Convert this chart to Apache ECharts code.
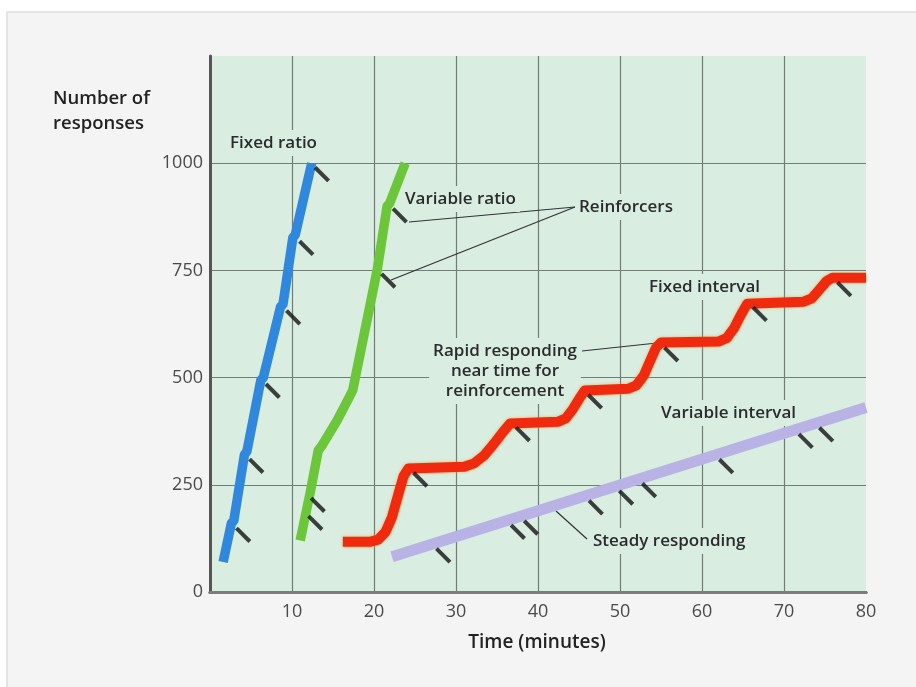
<!DOCTYPE html>
<html>
<head>
<meta charset="utf-8">
<script src="https://cdn.jsdelivr.net/npm/echarts@6/dist/echarts.min.js"></script>
<style>
  html, body { margin: 0; padding: 0; background: #fff; }
  #main { width: 916px; height: 687px; }
</style>
</head>
<body>
<div id="main"></div>
<script>
// time in minutes, cumulative responses
var xTicks = [0, 10, 20, 30, 40, 50, 60, 70, 80];
var yTicks = [0, 250, 500, 750, 1000];

var fixedRatio = [[1.6, 70], [2.6, 160], [2.9, 166], [4.2, 320], [4.5, 328], [6.2, 494], [6.5, 500],
	[8.6, 665], [8.9, 671], [10.1, 826], [10.4, 833], [12.4, 1000]];
var variableRatio = [[11.0, 120], [12.2, 230], [13.2, 330], [13.6, 340], [15.5, 400], [17.0, 455],
	[17.4, 470], [20.4, 752], [21.6, 900], [21.9, 906], [23.8, 1000]];
var fixedInterval = [[16.2, 117], [19.5, 117], [20.5, 122], [21.4, 140], [22.2, 175], [23.0, 230],
	[23.6, 270], [24.2, 288], [31.0, 292], [32.2, 300], [33.4, 318], [34.6, 345], [35.8, 375],
	[36.6, 393], [42.4, 397], [43.4, 405], [44.2, 425], [45.0, 450], [45.7, 470], [51.0, 474],
	[52.0, 482], [52.9, 505], [53.7, 540], [54.4, 570], [55.0, 582], [62.0, 584], [63.0, 592],
	[63.9, 615], [64.7, 645], [65.5, 672], [72.4, 677], [73.4, 685], [74.3, 705], [75.2, 725],
	[75.9, 733], [80, 733]];
var variableInterval = [[22.2, 82], [80, 430]];

// reinforcer marks (point on the curve where each tick starts)
var reinforcers = [
	[2.7, 159], [4.3, 320], [6.3, 495], [8.8, 666], [10.4, 828], [12.3, 1000],
	[11.8, 229], [11.5, 187], [20.4, 752], [21.8, 904],
	[24.3, 288], [36.8, 394], [45.6, 470], [54.9, 580], [65.7, 674], [76.0, 732],
	[27.1, 111], [36.2, 166], [37.8, 176], [45.7, 223], [49.4, 246], [52.2, 263],
	[61.6, 319], [71.3, 378], [73.8, 393]
];

var plotBg = '#d9ede1';
var textFont = '"Open Sans", "DejaVu Sans", sans-serif';

// annotation text: sits above the grid lines but below the curves
function note(text, x, y, align) {
	return {
		type: 'text', z: 1, x: x, y: y,
		style: {
			text: text, fill: '#2b2b2b', font: '600 17px ' + textFont,
			align: align || 'left', verticalAlign: 'middle',
			backgroundColor: plotBg, padding: [3, 4], lineHeight: 20
		}
	};
}
function lead(x1, y1, x2, y2) {
	return {
		type: 'line', z: 1,
		shape: { x1: x1, y1: y1, x2: x2, y2: y2 },
		style: { stroke: '#333', lineWidth: 1.2 }
	};
}

var myChart = echarts.init(document.getElementById('main'));
var option = {
	backgroundColor: '#ffffff',
	animation: false,
	grid: {
		left: 210, right: 50, top: 56, bottom: 95,
		show: true, backgroundColor: plotBg, borderWidth: 0
	},
	xAxis: [{
		type: 'value', min: 0, max: 80, interval: 10,
		axisLine: { show: true, onZero: false, lineStyle: { color: '#555', width: 3 } },
		axisTick: { show: false },
		axisLabel: {
			margin: 11, color: '#4a4a4a', fontSize: 18, fontFamily: textFont,
			formatter: function (v) { return xTicks.indexOf(v) > 0 ? String(v) : ''; }
		},
		splitLine: { show: true, showMinLine: false, showMaxLine: false, lineStyle: { color: '#6f7f75', width: 1.2 } }
	}, {
		type: 'value', position: 'top', min: 0, max: 80,
		axisLine: { show: true, lineStyle: { color: '#7d7d7d', width: 3 } },
		axisTick: { show: false }, axisLabel: { show: false }, splitLine: { show: false }
	}],
	yAxis: {
		type: 'value', min: 0, max: 1250, interval: 250,
		axisLine: { show: true, lineStyle: { color: '#555', width: 3 } },
		axisTick: { show: false },
		axisLabel: {
			margin: 7, color: '#4a4a4a', fontSize: 18, fontFamily: textFont,
			formatter: function (v) { return yTicks.indexOf(v) >= 0 ? String(v) : ''; }
		},
		splitLine: { show: true, showMaxLine: false, lineStyle: { color: '#6f7f75', width: 1.2 } }
	},
	series: [{
		name: 'Fixed ratio', type: 'line', data: fixedRatio, symbol: 'none',
		lineStyle: { color: '#2f88dd', width: 9.5, join: 'round' }, z: 3
	}, {
		name: 'Variable ratio', type: 'line', data: variableRatio, symbol: 'none',
		lineStyle: { color: '#6cc63a', width: 9.5, join: 'round' }, z: 3
	}, {
		name: 'Fixed interval', type: 'line', data: fixedInterval, symbol: 'none',
		lineStyle: { color: '#ef2a0f', width: 10, join: 'round', shadowColor: 'rgba(255,150,40,0.8)', shadowBlur: 3 }, z: 3
	}, {
		name: 'Variable interval', type: 'line', data: variableInterval, symbol: 'none',
		lineStyle: { color: '#b8b3e4', width: 11 }, z: 2
	}, {
		name: 'Reinforcers', type: 'scatter', data: reinforcers,
		symbol: 'rect', symbolSize: [19, 4], symbolRotate: -45, symbolOffset: [11, 11],
		itemStyle: { color: '#111' }, z: 5, silent: true
	}],
	graphic: [
		{
			type: 'rect', z: -100, shape: { x: 7, y: 12, width: 920, height: 690 },
			style: { fill: '#f4f4f4', stroke: '#dddddd', lineWidth: 1.5 }
		},
		{
			type: 'text', z: 100, x: 53, y: 99,
			style: { text: 'Number of', fill: '#222', font: '600 18.5px ' + textFont, verticalAlign: 'middle' }
		},
		{
			type: 'text', z: 100, x: 53, y: 124,
			style: { text: 'responses', fill: '#222', font: '600 18.5px ' + textFont, verticalAlign: 'middle' }
		},
		{
			type: 'text', z: 100, x: 537, y: 643,
			style: { text: 'Time (minutes)', fill: '#222', font: '600 19px ' + textFont, align: 'center', verticalAlign: 'middle' }
		},
		lead(575, 207, 409, 222),
		lead(575, 207, 391, 280),
		lead(582, 351, 657, 343),
		lead(587, 539, 556, 511),
		note('Fixed ratio', 226, 143),
		note('Variable ratio', 401, 199),
		note('Reinforcers', 575, 207),
		note('Fixed interval', 645, 287),
		note('Rapid responding\nnear time for\nreinforcement', 505, 371, 'center'),
		note('Variable interval', 657, 413),
		note('Steady responding', 589, 541)
	]
};
myChart.setOption(option);
window.onresize = function () {
	myChart.resize();
};
</script>
</body>
</html>
